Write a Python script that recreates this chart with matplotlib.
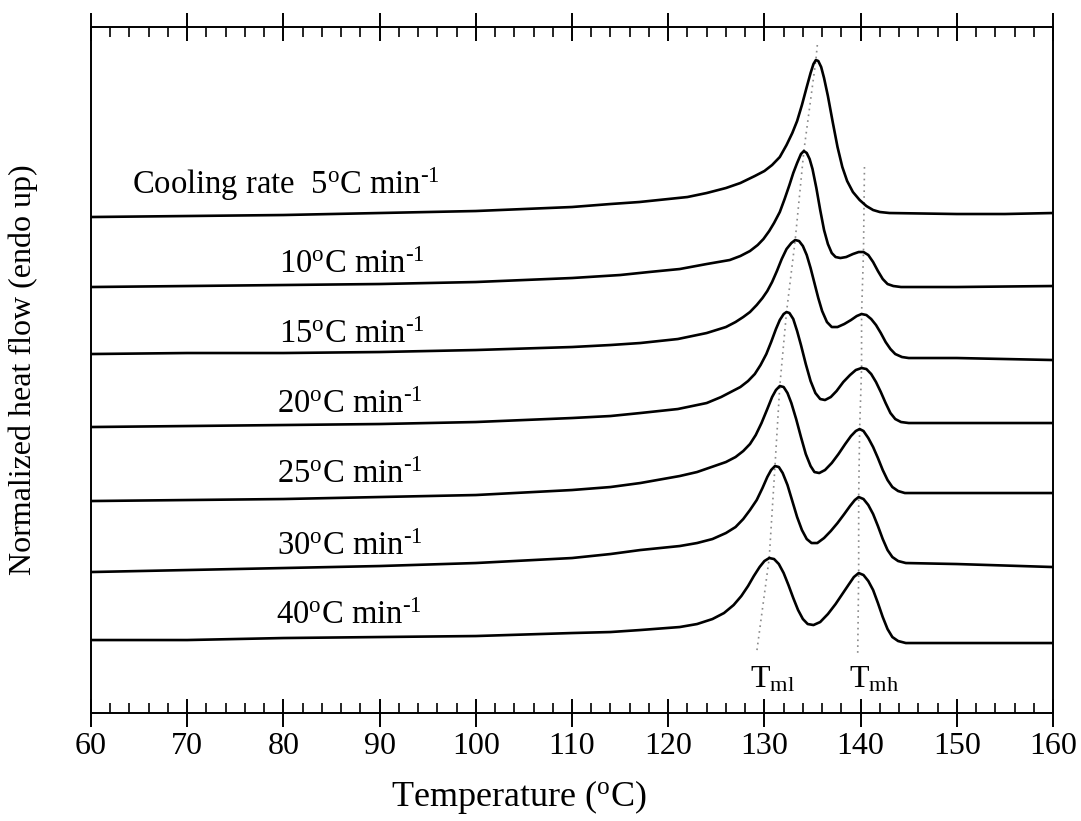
import numpy as np
import matplotlib
matplotlib.use("Agg")
import matplotlib.pyplot as plt
from matplotlib.ticker import MultipleLocator

plt.rcParams['font.family'] = ['Liberation Serif', 'DejaVu Serif']
plt.rcParams['mathtext.fontset'] = 'custom'
plt.rcParams['mathtext.rm'] = 'Liberation Serif'
plt.rcParams['mathtext.it'] = 'Liberation Serif:italic'

# DSC melting curves (temperature in C, normalized heat flow in arbitrary units, shifted)
t_5 = [60, 70, 80, 90, 100, 105, 110, 114, 117, 120, 122, 124, 126, 127.5, 129, 130,
       130.8, 131.6, 132.3, 132.9, 133.4, 133.9, 134.4, 134.8, 135.1, 135.35, 135.6,
       135.9, 136.2, 136.6, 137.1, 137.6, 138.1, 138.6, 139.2, 139.9, 140.6, 141.3,
       142, 143, 150, 155, 160]
hf_5 = [49.6, 49.7, 49.8, 50.0, 50.2, 50.4, 50.6, 50.9, 51.1, 51.4, 51.6, 52.0, 52.5,
        53.0, 53.7, 54.2, 54.8, 55.6, 56.8, 58.0, 59.2, 60.8, 62.6, 64.0, 64.9, 65.3,
        65.2, 64.6, 63.5, 61.7, 59.1, 56.6, 54.6, 53.2, 52.1, 51.3, 50.7, 50.3, 50.1,
        50.0, 49.9, 49.9, 50.0]

t_10 = [60, 70, 80, 90, 100, 110, 115, 118, 121.2, 124, 126.4, 127.5, 128.5, 129.3,
        129.9, 130.5, 131, 131.6, 132.1, 132.6, 133, 133.4, 133.8, 134.1, 134.4, 134.7,
        135, 135.4, 135.8, 136.2, 136.6, 137, 137.4, 137.9, 138.5, 139.2, 139.8, 140.3,
        140.8, 141.3, 141.8, 142.3, 142.8, 143.4, 144.2, 150, 160]
hf_10 = [42.6, 42.7, 42.8, 42.9, 43.1, 43.5, 43.8, 44.1, 44.4, 44.9, 45.3, 45.7, 46.2,
         46.8, 47.4, 48.2, 49.0, 50.1, 51.4, 52.8, 54.0, 55.0, 55.9, 56.2, 56.0, 55.4,
         54.4, 52.5, 50.3, 48.3, 46.9, 46.0, 45.6, 45.5, 45.6, 45.9, 46.1, 46.1, 45.8,
         45.1, 44.2, 43.4, 42.9, 42.7, 42.6, 42.6, 42.7]

t_15 = [60, 70, 80, 90, 100, 110, 114, 117.1, 121, 124, 126, 127, 127.8, 128.5, 129.2,
        129.8, 130.3, 130.8, 131.3, 131.8, 132.3, 132.8, 133.2, 133.6, 134, 134.4,
        134.8, 135.2, 135.6, 136, 136.5, 137, 137.6, 138.3, 139, 139.6, 140.1, 140.6,
        141.1, 141.6, 142.1, 142.6, 143.1, 143.6, 144.3, 145, 150, 160]
hf_15 = [35.9, 36.0, 36.0, 36.1, 36.3, 36.6, 36.8, 37.0, 37.4, 38.0, 38.6, 39.1, 39.6,
         40.1, 40.8, 41.5, 42.2, 43.1, 44.2, 45.4, 46.4, 47.0, 47.3, 47.2, 46.7, 45.8,
         44.5, 43.0, 41.5, 40.2, 39.1, 38.6, 38.6, 38.9, 39.3, 39.7, 39.9, 39.8, 39.4,
         38.8, 38.0, 37.1, 36.4, 35.9, 35.6, 35.5, 35.5, 35.3]

t_20 = [60, 70, 80, 90, 100, 110, 114, 117.1, 121, 124, 125.5, 126.5, 127.5, 128.3,
        129, 129.6, 130.2, 130.7, 131.2, 131.6, 132, 132.3, 132.6, 133, 133.4, 133.8,
        134.3, 134.8, 135.3, 135.8, 136.3, 136.9, 137.5, 138.2, 138.9, 139.5, 140.1,
        140.6, 141.1, 141.6, 142.1, 142.6, 143.1, 143.6, 144.2, 145, 150, 160]
hf_20 = [28.6, 28.7, 28.8, 28.9, 29.1, 29.5, 29.7, 30.0, 30.4, 31.0, 31.6, 32.1, 32.6,
         33.2, 33.9, 34.8, 35.9, 37.1, 38.4, 39.3, 39.9, 40.1, 40.0, 39.4, 38.2, 36.8,
         34.9, 33.2, 32.0, 31.4, 31.3, 31.6, 32.2, 33.1, 33.8, 34.3, 34.5, 34.4, 33.9,
         33.1, 32.1, 31.0, 30.0, 29.4, 29.1, 29.0, 29.0, 29.0]

t_25 = [60, 70, 80, 90, 100, 110, 114, 117.1, 121.2, 123, 124.5, 126, 127, 127.8,
        128.5, 129.1, 129.7, 130.3, 130.8, 131.2, 131.6, 132, 132.4, 132.8, 133.3,
        133.8, 134.3, 134.8, 135.2, 135.7, 136.3, 137, 137.7, 138.4, 139, 139.5, 139.9,
        140.3, 140.8, 141.3, 141.8, 142.3, 142.8, 143.3, 143.9, 144.6, 150, 160]
hf_25 = [21.2, 21.3, 21.4, 21.6, 21.8, 22.3, 22.6, 23.0, 23.7, 24.1, 24.6, 25.1, 25.6,
         26.2, 26.9, 27.8, 29.0, 30.4, 31.6, 32.3, 32.7, 32.6, 32.0, 31.0, 29.4, 27.6,
         25.9, 24.7, 24.1, 24.0, 24.3, 25.0, 25.9, 26.9, 27.7, 28.2, 28.4, 28.2, 27.5,
         26.6, 25.5, 24.3, 23.3, 22.6, 22.2, 22.0, 22.0, 22.0]

t_30 = [60, 70, 80, 90, 100, 110, 114, 117.1, 121.2, 123, 124.6, 126, 127, 127.8,
        128.5, 129.2, 129.8, 130.3, 130.7, 131.1, 131.5, 131.9, 132.4, 132.9, 133.4,
        133.9, 134.4, 134.9, 135.5, 136.2, 136.9, 137.6, 138.3, 138.9, 139.4, 139.8,
        140.3, 140.8, 141.3, 141.8, 142.3, 142.8, 143.3, 143.9, 144.7, 150, 160]
hf_30 = [14.1, 14.3, 14.5, 14.7, 15.0, 15.5, 15.9, 16.3, 16.7, 17.0, 17.4, 18.0, 18.6,
         19.4, 20.3, 21.3, 22.5, 23.6, 24.3, 24.7, 24.6, 24.0, 22.8, 21.2, 19.6, 18.3,
         17.4, 17.0, 17.0, 17.5, 18.2, 19.0, 19.9, 20.7, 21.3, 21.6, 21.4, 20.8, 19.9,
         18.7, 17.4, 16.3, 15.6, 15.2, 15.0, 14.9, 14.6]

t_40 = [60, 70, 80, 90, 100, 110, 114, 117.1, 121.2, 123, 124.6, 125.8, 126.8, 127.6,
        128.3, 128.9, 129.5, 130, 130.5, 131, 131.5, 132, 132.5, 133, 133.5, 134,
        134.5, 135.1, 135.8, 136.6, 137.4, 138.1, 138.8, 139.3, 139.8, 140.3, 140.8,
        141.3, 141.8, 142.3, 142.8, 143.3, 143.9, 144.7, 150, 160]
hf_40 = [7.3, 7.3, 7.5, 7.6, 7.7, 8.0, 8.1, 8.3, 8.6, 8.9, 9.4, 10.0, 10.8, 11.7, 12.7,
         13.7, 14.6, 15.2, 15.5, 15.4, 14.9, 14.0, 12.8, 11.5, 10.3, 9.4, 8.9, 8.8,
         9.1, 9.9, 10.9, 11.9, 12.9, 13.6, 14.0, 13.8, 13.2, 12.3, 11.0, 9.6, 8.4, 7.6,
         7.2, 7.0, 7.0, 7.0]

curves = [(t_5, hf_5), (t_10, hf_10), (t_15, hf_15), (t_20, hf_20),
          (t_25, hf_25), (t_30, hf_30), (t_40, hf_40)]

sup = '$^{\\rm o}$C min$^{\\rm \u20101}$'
labels = ['Cooling rate  5' + sup, '10' + sup, '15' + sup, '20' + sup,
          '25' + sup, '30' + sup, '40' + sup]
label_t = [64.3, 79.5, 79.5, 79.3, 79.3, 79.3, 79.2]
label_hf = [51.9, 44.0, 37.0, 30.0, 23.0, 15.8, 8.9]

# peak position guides
tml_t = [135.5, 135.35, 134.1, 133.2, 132.3, 131.6, 131.1, 130.5, 129.2]
tml_hf = [66.8, 65.3, 56.2, 47.3, 40.1, 32.7, 24.7, 15.5, 6.1]
tmh_t = [140.4, 140.3, 140.1, 140.1, 139.9, 139.8, 139.8, 139.7]
tmh_hf = [54.6, 46.1, 39.9, 34.5, 28.4, 21.6, 14.0, 6.0]

fig = plt.figure(figsize=(10.81, 8.21), dpi=100)
ax = fig.add_axes([0.0842, 0.1315, 0.8899, 0.8356])

ax.plot(tml_t, tml_hf, color='#8a8a8a', lw=1.2, ls=(0, (1, 2.5)))
ax.plot(tmh_t, tmh_hf, color='#8a8a8a', lw=1.2, ls=(0, (1, 2.5)))

for (t, hf) in curves:
    ax.plot(t, hf, color='black', lw=1.9, solid_joinstyle='round')

for txt, x, y in zip(labels, label_t, label_hf):
    ax.text(x, y, txt, fontsize=23.5, ha='left', va='baseline')

ax.text(128.5, 2.6, 'T$_{\\rm ml}$', fontsize=23, ha='left', va='baseline')
ax.text(138.8, 2.6, 'T$_{\\rm mh}$', fontsize=23, ha='left', va='baseline')

ax.set_xlim(60, 160)
ax.set_ylim(0, 68.6)
ax.set_xticks(range(60, 161, 10))
ax.xaxis.set_minor_locator(MultipleLocator(2))
ax.set_yticks([])
ax.tick_params(axis='x', which='major', direction='inout', length=20, width=1.4,
               top=True, bottom=True, labelsize=23, pad=4)
ax.tick_params(axis='x', which='minor', direction='in', length=7, width=1.2,
               top=True, bottom=True)
for s in ax.spines.values():
    s.set_linewidth(1.4)

ax.set_xlabel('Temperature ($^{\\rm o}$C)', fontsize=26, va='center')
ax.xaxis.set_label_coords(0.445, -0.122)
ax.set_ylabel('Normalized heat flow (endo up)', fontsize=23, va='center')
ax.yaxis.set_label_coords(-0.0707, 0.5)

fig.savefig('out.png', dpi=100)
